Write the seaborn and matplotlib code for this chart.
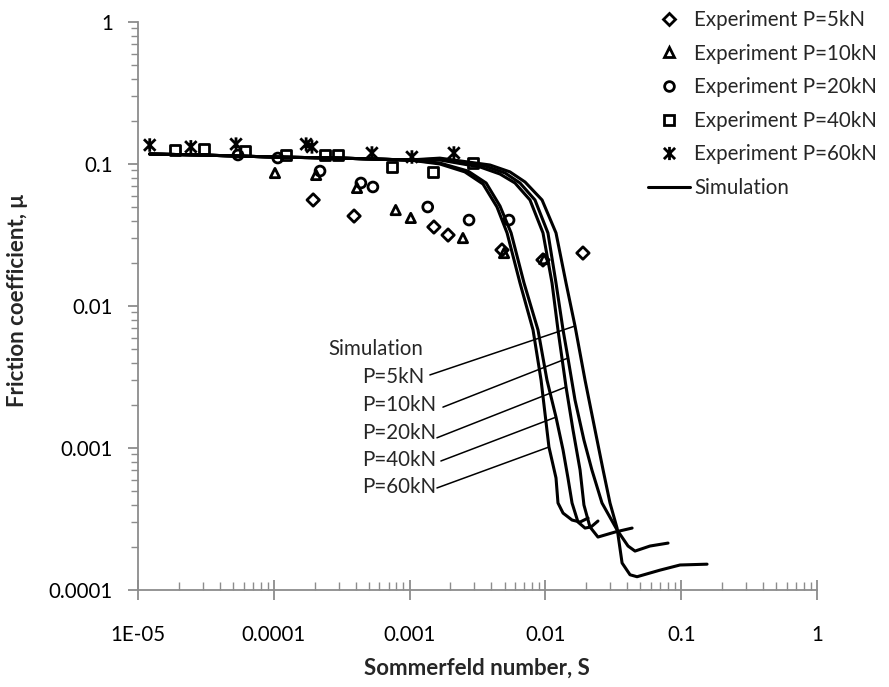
import numpy as np
import pandas as pd
import matplotlib
matplotlib.use("Agg")
import matplotlib.pyplot as plt
import seaborn as sns
from matplotlib.path import Path
from matplotlib.lines import Line2D

# ---------------- data ----------------
# Experiments (Sommerfeld number S, friction coefficient mu)
exp5_S = [1.95e-4, 3.9e-4, 1.51e-3, 1.92e-3, 4.79e-3, 9.6e-3, 0.0189]
exp5_mu = [0.0558, 0.0430, 0.036, 0.0316, 0.0248, 0.0211, 0.0236]

exp10_S = [1.02e-4, 2.05e-4, 4.1e-4, 7.9e-4, 1.02e-3, 2.47e-3, 4.96e-3, 9.8e-3]
exp10_mu = [0.0864, 0.0837, 0.0678, 0.0474, 0.0417, 0.0301, 0.0236, 0.0214]

exp20_S = [5.45e-5, 1.07e-4, 2.19e-4, 4.38e-4, 5.37e-4, 1.36e-3, 2.74e-3, 5.4e-3]
exp20_mu = [0.1157, 0.1102, 0.0892, 0.0735, 0.0689, 0.0498, 0.0403, 0.0403]

exp40_S = [1.87e-5, 3.06e-5, 6.14e-5, 1.23e-4, 2.38e-4, 2.97e-4, 7.41e-4, 1.49e-3, 2.93e-3]
exp40_mu = [0.1255, 0.1275, 0.1235, 0.1157, 0.1157, 0.1157, 0.0953, 0.0879, 0.1016]

exp60_S = [1.22e-5, 2.45e-5, 5.27e-5, 1.73e-4, 1.91e-4, 5.28e-4, 1.04e-3, 2.12e-3]
exp60_mu = [0.136, 0.132, 0.138, 0.138, 0.132, 0.1195, 0.112, 0.1195]

# Simulation curves
sim5_S = [1.22e-5, 2.86e-5, 1e-4, 3.07e-4, 1e-3, 1.67e-3, 3.91e-3, 5.48e-3, 7.08e-3, 9.45e-3, 0.01197,
          0.01419, 0.01652, 0.01958, 0.0232, 0.0266, 0.0299, 0.0337, 0.0367, 0.0420, 0.0473,
          0.0698, 0.098, 0.155]
sim5_mu = [0.1176, 0.1157, 0.112, 0.110, 0.1067, 0.110, 0.0984, 0.088, 0.0747, 0.0558, 0.0327,
           0.01452, 0.00723, 0.00301, 0.00134, 0.000700, 0.000410, 0.000273, 0.000155, 0.000128, 0.000124,
           0.000138, 0.000150, 0.000152]

sim10_S = [1.22e-5, 2.86e-5, 1e-4, 3.07e-4, 1e-3, 1.67e-3, 3.59e-3, 5.05e-3, 6.50e-3, 8.38e-3, 0.01044,
           0.01197, 0.01349, 0.01466, 0.01652, 0.01922, 0.0220, 0.0261, 0.0337, 0.0406, 0.0457,
           0.0589, 0.0800]
sim10_mu = [0.1176, 0.1157, 0.112, 0.110, 0.1067, 0.1084, 0.0968, 0.0864, 0.0735, 0.0558, 0.0327,
            0.01452, 0.00678, 0.00430, 0.00218, 0.001138, 0.000700, 0.000410, 0.000265, 0.000204, 0.000188,
            0.000204, 0.000214]

sim20_S = [1.22e-5, 2.86e-5, 1e-4, 3.07e-4, 1e-3, 1.67e-3, 3.30e-3, 4.63e-3, 5.97e-3, 7.70e-3, 9.60e-3,
           0.01119, 0.01238, 0.01419, 0.01597, 0.0180, 0.01922, 0.02129, 0.02438, 0.0326, 0.0435]
sim20_mu = [0.1176, 0.1157, 0.112, 0.110, 0.1067, 0.1067, 0.0953, 0.0850, 0.0735, 0.0558, 0.0327,
            0.01452, 0.00678, 0.00269, 0.00134, 0.000700, 0.000397, 0.000278, 0.000236, 0.000256, 0.000273]

sim40_S = [1.22e-5, 2.86e-5, 1e-4, 3.07e-4, 1e-3, 1.67e-3, 2.69e-3, 3.66e-3, 4.63e-3, 5.59e-3, 6.96e-3,
           8.82e-3, 0.01027, 0.01197, 0.01349, 0.01466, 0.01571, 0.01738, 0.01958, 0.02169, 0.02438]
sim40_mu = [0.1176, 0.1157, 0.112, 0.110, 0.1067, 0.1016, 0.0892, 0.0735, 0.0506, 0.0327, 0.01452,
            0.00678, 0.00301, 0.00165, 0.000968, 0.000615, 0.000410, 0.000301, 0.000273, 0.000278, 0.000306]

sim60_S = [1.22e-5, 2.86e-5, 1e-4, 3.07e-4, 1e-3, 1.67e-3, 2.55e-3, 3.47e-3, 4.40e-3, 5.22e-3, 6.50e-3,
           8.11e-3, 9.29e-3, 0.01062, 0.01197, 0.01238, 0.01349, 0.01571, 0.0180, 0.0206]
sim60_mu = [0.1176, 0.1157, 0.112, 0.110, 0.1067, 0.100, 0.088, 0.0723, 0.0498, 0.0327, 0.01452,
            0.00678, 0.00301, 0.001016, 0.000615, 0.000410, 0.000348, 0.000311, 0.000301, 0.000321]

exp_labels = ["Experiment P=5kN", "Experiment P=10kN", "Experiment P=20kN",
              "Experiment P=40kN", "Experiment P=60kN"]
sim_labels = ["P=5kN", "P=10kN", "P=20kN", "P=40kN", "P=60kN"]

x_ticks = [1e-5, 1e-4, 1e-3, 1e-2, 1e-1, 1]
x_ticklabels = ["1E-05", "0.0001", "0.001", "0.01", "0.1", "1"]
y_ticks = [1e-4, 1e-3, 1e-2, 1e-1, 1]
y_ticklabels = ["0.0001", "0.001", "0.01", "0.1", "1"]

# ---------------- style ----------------
sns.set_theme(style="white")
plt.rcParams["font.family"] = ["Lato", "DejaVu Sans"]
FS = 14.8
GREY = "#8c8c8c"

fig = plt.figure(figsize=(8.89, 6.87), dpi=100)
ax = fig.add_axes([138 / 889, 1 - 590 / 687, (817 - 138) / 889, (590 - 22) / 687])
ax.set_xscale("log")
ax.set_yscale("log")

# simulation curves
sims = [(sim5_S, sim5_mu), (sim10_S, sim10_mu), (sim20_S, sim20_mu),
        (sim40_S, sim40_mu), (sim60_S, sim60_mu)]
for s, m in sims:
    df = pd.DataFrame({"S": s, "mu": m})
    sns.lineplot(data=df, x="S", y="mu", sort=False, estimator=None,
                 color="black", linewidth=2.2, ax=ax)

# star marker (X with vertical bar)
star = Path([(-0.85, -0.85), (0.85, 0.85), (-0.85, 0.85), (0.85, -0.85), (0, -1.0), (0, 1.0)],
            [Path.MOVETO, Path.LINETO, Path.MOVETO, Path.LINETO, Path.MOVETO, Path.LINETO])

exps = [(exp5_S, exp5_mu, "D", 40), (exp10_S, exp10_mu, "^", 45),
        (exp20_S, exp20_mu, "o", 50), (exp40_S, exp40_mu, "s", 48),
        (exp60_S, exp60_mu, star, 95)]
for s, m, mk, sz in exps:
    df = pd.DataFrame({"S": s, "mu": m})
    sns.scatterplot(data=df, x="S", y="mu", marker=mk, s=sz, color="black",
                    facecolor="none", edgecolor="black", linewidth=2.0, ax=ax, zorder=3)

ax.set_xlim(1e-5, 1)
ax.set_ylim(1e-4, 1)
ax.set_xticks(x_ticks)
ax.set_xticklabels(x_ticklabels)
ax.set_yticks(y_ticks)
ax.set_yticklabels(y_ticklabels)
ax.set_xlabel("")
ax.set_ylabel("")

for sp in ["top", "right"]:
    ax.spines[sp].set_visible(False)
for sp in ["left", "bottom"]:
    ax.spines[sp].set_color(GREY)
    ax.spines[sp].set_linewidth(1.3)

ax.tick_params(axis="x", which="major", direction="inout", length=14, width=1.3,
               color=GREY, labelsize=FS, pad=18, labelcolor="black")
ax.tick_params(axis="x", which="minor", direction="in", length=6, width=1.0, color=GREY)
ax.tick_params(axis="y", which="major", direction="out", length=7, width=1.3,
               color=GREY, labelsize=FS, pad=11, labelcolor="black")
ax.tick_params(axis="y", which="minor", direction="out", length=5, width=1.0, color=GREY)
ax.tick_params(which="both", bottom=True, left=True)
ax.grid(False)

# annotation: simulation labels with leader lines
ax.text(2.51e-4, 4.98e-3, "Simulation", fontsize=FS, va="center", ha="left")
label_y = [3.16e-3, 2.01e-3, 1.28e-3, 8.23e-4, 5.31e-4]
lead_start = [(1.41e-3, 3.27e-3), (1.76e-3, 1.94e-3), (1.59e-3, 1.18e-3),
              (1.70e-3, 8.10e-4), (1.59e-3, 5.23e-4)]
lead_idx = [12, 13, 13, 13, 13]
for (s, m), lab, ly, (x0, y0), idx in zip(sims, sim_labels, label_y, lead_start, lead_idx):
    ax.text(4.46e-4, ly, lab, fontsize=FS, va="center", ha="left")
    ax.plot([x0, s[idx]], [y0, m[idx]], color="black", lw=1.1)

# legend
handles = [
    Line2D([], [], ls="none", marker="D", ms=6.4, mfc="none", mec="black", mew=2.0),
    Line2D([], [], ls="none", marker="^", ms=6.8, mfc="none", mec="black", mew=2.0),
    Line2D([], [], ls="none", marker="o", ms=7.0, mfc="none", mec="black", mew=2.0),
    Line2D([], [], ls="none", marker="s", ms=7.0, mfc="none", mec="black", mew=2.0),
    Line2D([], [], ls="none", marker=star, ms=9.5, mfc="none", mec="black", mew=2.0),
    Line2D([], [], color="black", lw=2.2),
]
fig.legend(handles, exp_labels + ["Simulation"], loc="upper left",
           bbox_to_anchor=(648 / 889, 1 - 10 / 687), frameon=False, fontsize=FS,
           handlelength=2.05, handletextpad=0.2, labelspacing=0.66, borderpad=0,
           borderaxespad=0)

fig.text(18 / 889, 1 - 301 / 687, "Friction coefficient, μ", rotation=90,
         ha="center", va="center", fontsize=16, fontweight="bold")
fig.text(477 / 889, 1 - 668 / 687, "Sommerfeld number, S",
         ha="center", va="center", fontsize=16, fontweight="bold")

fig.savefig("out.png", dpi=100)
